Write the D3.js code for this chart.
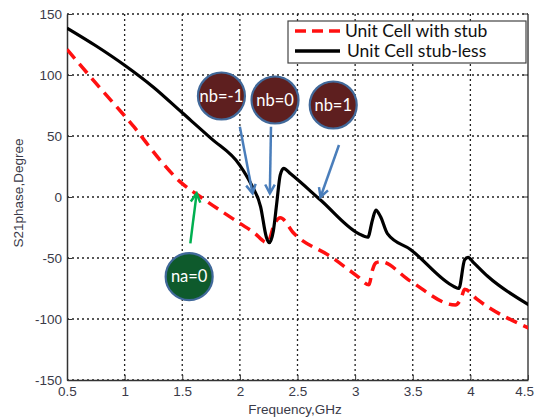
<!DOCTYPE html>
<html><head><meta charset="utf-8">
<script src="https://cdn.jsdelivr.net/npm/d3@7"></script>
<style>body{margin:0;background:#fff}svg{display:block}</style>
</head><body>
<svg id="c" width="536" height="419"></svg>
<script>
// Data (frequency GHz, phase degree)
const stubFreq  = [0.5, 0.79, 1.08, 1.31, 1.48, 1.66, 2.0, 2.12, 2.24, 2.3, 2.35, 2.47, 2.79, 3.02, 3.12, 3.15, 3.18, 3.22, 3.48, 3.87, 3.92, 3.95, 4.06, 4.51];
const stubPhase = [121, 89, 57.6, 30, 12.6, 0, -21.6, -29, -37.5, -22, -17, -30, -49, -65, -72, -60, -54, -53, -69, -88.5, -83, -75.6, -84, -107.6];
const lessFreq  = [0.5, 0.75, 1.0, 1.25, 1.5, 1.75, 2.0, 2.1, 2.18, 2.23, 2.255, 2.29, 2.32, 2.35, 2.38, 2.44, 2.70, 3.03, 3.11, 3.15, 3.18, 3.22, 3.28, 3.48, 3.86, 3.90, 3.95, 3.98, 4.03, 4.15, 4.51];
const lessPhase = [138.5, 124, 108, 90, 69, 48, 26, 10, -8, -33, -37.5, -28, -5, 18, 23.5, 19, -2.5, -30, -33, -19, -10.7, -16, -30, -43, -73.5, -75, -51.6, -49.5, -54, -65, -88.5];
const xTicks = [0.5, 1, 1.5, 2, 2.5, 3, 3.5, 4, 4.5];
const yTicks = [150, 100, 50, 0, -50, -100, -150];
const legendLabels = ["Unit Cell with stub", "Unit Cell stub-less"];
const xTitle = "Frequency,GHz", yTitle = "S21phase,Degree";
// Annotations: label, circle centre (GHz,deg), arrow from/to (GHz,deg)
const annLabels = ["nb=-1", "nb=0", "nb=1", "na=0"];
const annPos = [[1.84, 82.8], [2.305, 79.5], [2.81, 75.4], [1.56, -65.3]];
const annArrowFrom = [[2.00, 57.6], [2.27, 57.6], [2.86, 42.6], [1.57, -38]];
const annArrowTo = [[2.11, 3], [2.26, 3], [2.70, 0], [1.625, 3]];

const svg = d3.select("#c");
const L = 67, R = 528, T = 14, B = 380;
const x = d3.scaleLinear().domain([0.5, 4.5]).range([L, R]);
const y = d3.scaleLinear().domain([-150, 150]).range([B, T]);
const font = "Liberation Sans, Arial, sans-serif";

// grid
const g = svg.append("g");
g.selectAll(".gx").data(xTicks.slice(1, -1)).enter().append("line")
  .attr("x1", d => x(d)).attr("x2", d => x(d)).attr("y1", T).attr("y2", B)
  .attr("stroke", "#222").attr("stroke-width", 1.3).attr("stroke-dasharray", "2,3");
g.selectAll(".gy").data(yTicks).enter().append("line")
  .attr("x1", L).attr("x2", R).attr("y1", d => y(d)).attr("y2", d => y(d))
  .attr("stroke", "#222").attr("stroke-width", 1.3).attr("stroke-dasharray", "2,3");

// axes
const fmt = d => String(d);
const xa = svg.append("g").attr("transform", `translate(0,${B})`)
  .call(d3.axisBottom(x).tickValues(xTicks).tickFormat(fmt).tickSizeInner(-5).tickSizeOuter(0).tickPadding(6));
const ya = svg.append("g").attr("transform", `translate(${L},0)`)
  .call(d3.axisLeft(y).tickValues(yTicks).tickFormat(fmt).tickSizeInner(-5).tickSizeOuter(0).tickPadding(5));
[xa, ya].forEach(a => {
  a.select(".domain").attr("stroke", "#333").attr("stroke-width", 1.5);
  a.selectAll(".tick line").attr("stroke", "#333");
  a.selectAll("text").attr("font-family", font).attr("font-size", 13.5).attr("fill", "#3a3a48");
});
ya.selectAll("text").attr("dy", "0.32em");
xa.selectAll(".tick text").filter(d => d === 4.5).attr("text-anchor", "end").attr("dx", "0.4em");
// right border
svg.append("line").attr("x1", R).attr("x2", R).attr("y1", T).attr("y2", B).attr("stroke", "#444").attr("stroke-width", 1.5);
svg.selectAll(".rt").data(yTicks).enter().append("line")
  .attr("x1", R).attr("x2", R - 5).attr("y1", d => y(d)).attr("y2", d => y(d)).attr("stroke", "#333");

// titles
svg.append("text").attr("x", 295).attr("y", 414).attr("text-anchor", "middle")
  .attr("font-family", font).attr("font-size", 13.5).attr("fill", "#3a3a48").text(xTitle);
svg.append("text").attr("transform", "translate(23,193) rotate(-90)").attr("text-anchor", "middle")
  .attr("font-family", font).attr("font-size", 13.5).attr("fill", "#3a3a48").text(yTitle);

// lines
const line = d3.line().x(d => x(d[0])).y(d => y(d[1])).curve(d3.curveMonotoneX);
svg.append("clipPath").attr("id", "pc").append("rect").attr("x", L).attr("y", T).attr("width", R - L).attr("height", B - T);
svg.append("path").datum(stubFreq.map((f, i) => [f, stubPhase[i]]))
  .attr("clip-path", "url(#pc)")
  .attr("d", line).attr("fill", "none").attr("stroke", "#ff1010").attr("stroke-width", 3.5)
  .attr("stroke-dasharray", "12,7").attr("stroke-linejoin", "round");
svg.append("path").datum(lessFreq.map((f, i) => [f, lessPhase[i]]))
  .attr("clip-path", "url(#pc)")
  .attr("d", line).attr("fill", "none").attr("stroke", "#000").attr("stroke-width", 3.2).attr("stroke-linejoin", "round");

// legend
const lg = svg.append("g");
lg.append("rect").attr("x", 288).attr("y", 21).attr("width", 238).attr("height", 42)
  .attr("fill", "#fff").attr("stroke", "#444").attr("stroke-width", 1.2);
lg.append("line").attr("x1", 295).attr("x2", 340).attr("y1", 31).attr("y2", 31)
  .attr("stroke", "#ff1010").attr("stroke-width", 3.5).attr("stroke-dasharray", "11,6");
lg.append("line").attr("x1", 295).attr("x2", 340).attr("y1", 51).attr("y2", 51)
  .attr("stroke", "#000").attr("stroke-width", 3.5);
lg.selectAll("text").data(legendLabels).enter().append("text")
  .attr("x", (d, i) => i ? 347 : 345).attr("y", (d, i) => 31 + i * 20).attr("dy", "0.35em")
  .attr("font-family", "Lato, sans-serif").attr("font-size", 17.5).attr("fill", "#111").text(d => d);

// annotations
const ag = svg.append("g");
annLabels.forEach((lab, i) => {
  const col = i === 3 ? "#00b050" : "#4a7ebb";
  const [fx, fy] = annArrowFrom[i], [tx, ty] = annArrowTo[i];
  const x1 = x(fx), y1 = y(fy), x2 = x(tx), y2 = y(ty);
  ag.append("line").attr("x1", x1).attr("y1", y1).attr("x2", x2).attr("y2", y2)
    .attr("stroke", col).attr("stroke-width", 2.5);
  const ang = Math.atan2(y2 - y1, x2 - x1), hl = 10, ha = 0.5;
  const p = d3.path();
  p.moveTo(x2 - hl * Math.cos(ang - ha), y2 - hl * Math.sin(ang - ha));
  p.lineTo(x2, y2);
  p.lineTo(x2 - hl * Math.cos(ang + ha), y2 - hl * Math.sin(ang + ha));
  ag.append("path").attr("d", p.toString()).attr("fill", "none").attr("stroke", col).attr("stroke-width", 2.5);
  const [cx, cy] = annPos[i];
  ag.append("circle").attr("cx", x(cx)).attr("cy", y(cy)).attr("r", 23.5)
    .attr("fill", i === 3 ? "#0e5a2c" : "#5e1f1f").attr("stroke", "#41699a").attr("stroke-width", 2.2);
  ag.append("text").attr("x", x(cx)).attr("y", y(cy)).attr("dy", "0.35em").attr("text-anchor", "middle")
    .attr("font-family", "Lato, sans-serif").attr("font-size", 16.5).attr("fill", "#fff").text(lab);
});
</script>
</body></html>
